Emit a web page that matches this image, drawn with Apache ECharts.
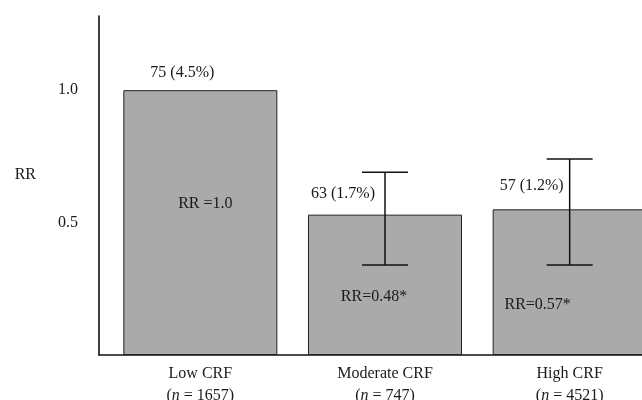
<!DOCTYPE html>
<html>
<head>
<meta charset="utf-8">
<script src="https://cdn.jsdelivr.net/npm/echarts@6/dist/echarts.min.js"></script>
<style>html,body{margin:0;padding:0;background:#fff}#c{width:642px;height:400px}</style>
</head>
<body>
<div id="c"></div>
<script>
// ---- data ----
var categories = ['Low CRF', 'Moderate CRF', 'High CRF'];
var nValues = ['1657', '747', '4521'];
var barValues = [1.0, 0.53, 0.55];
var ciLow = [null, 0.34, 0.34];
var ciHigh = [null, 0.69, 0.74];
var eventLabels = ['75 (4.5%)', '63 (1.7%)', '57 (1.2%)'];
var rrLabels = ['RR =1.0', 'RR=0.48*', 'RR=0.57*'];
var yTicks = [0.5, 1.0];

// ---- layout / style (not data) ----
var FONT = 'Liberation Serif';
var FS = 16;
var countOffsets = [[-18, -17], [-42, -21], [-38, -24]];
var rrOffsets = [[5, -19], [-11, 12], [-32, 23]];
var Y_MAX = 1.28;

var chart = echarts.init(document.getElementById('c'), null, {renderer: 'canvas'});

var option = {
  animation: false,
  backgroundColor: '#ffffff',
  grid: [
    {left: 108, width: 554, top: 16, bottom: 45, outerBoundsMode: 'none', containLabel: false},
    {left: 99, right: 0, top: 16, bottom: 45, outerBoundsMode: 'none', containLabel: false}
  ],
  xAxis: [
    {
      type: 'category', gridIndex: 0, data: categories,
      axisLine: {show: false}, axisTick: {show: false},
      axisLabel: {
        interval: 0, margin: 8, color: '#1a1a1a',
        fontFamily: FONT, fontSize: FS, lineHeight: 22,
        formatter: function (v, idx) {
          return v + '\n({i|n} = ' + nValues[idx] + ')';
        },
        rich: {i: {fontStyle: 'italic', fontFamily: FONT, fontSize: FS, color: '#1a1a1a', lineHeight: 22}}
      }
    },
    {
      type: 'value', gridIndex: 1, min: 0, max: 1,
      axisLine: {show: true, lineStyle: {color: '#111', width: 1.6}},
      axisTick: {show: false}, axisLabel: {show: false}, splitLine: {show: false}
    }
  ],
  yAxis: [
    {
      type: 'value', gridIndex: 0, min: 0, max: Y_MAX, show: false
    },
    {
      type: 'value', gridIndex: 1, min: 0, max: Y_MAX, interval: 0.5,
      axisLine: {show: true, lineStyle: {color: '#111', width: 1.6}},
      axisTick: {show: false}, splitLine: {show: false},
      axisLabel: {
        margin: 21, color: '#1a1a1a', fontFamily: FONT, fontSize: FS,
        showMinLabel: false, showMaxLabel: false,
        formatter: function (v) { return yTicks.indexOf(v) >= 0 ? v.toFixed(1) : ''; }
      },
      name: 'RR\n ', nameLocation: 'middle', nameRotate: 0, nameGap: 63,
      nameTextStyle: {color: '#1a1a1a', fontFamily: FONT, fontSize: FS, lineHeight: 21}
    }
  ],
  series: [
    {
      type: 'bar', xAxisIndex: 0, yAxisIndex: 0, barWidth: 154,
      data: barValues,
      itemStyle: {color: '#aaaaaa', borderColor: '#222', borderWidth: 1}
    },
    {
      type: 'custom', xAxisIndex: 0, yAxisIndex: 0,
      data: categories.map(function (c, i) { return [i, ciLow[i], ciHigh[i]]; }).filter(function (d) { return d[1] != null; }),
      renderItem: function (params, api) {
        var lo = api.coord([api.value(0), api.value(1)]);
        var hi = api.coord([api.value(0), api.value(2)]);
        var hw = 23;
        var st = {stroke: '#111', lineWidth: 1.5};
        return {
          type: 'group',
          children: [
            {type: 'line', shape: {x1: lo[0], y1: lo[1], x2: hi[0], y2: hi[1]}, style: st},
            {type: 'line', shape: {x1: hi[0] - hw, y1: hi[1], x2: hi[0] + hw, y2: hi[1]}, style: st},
            {type: 'line', shape: {x1: lo[0] - hw, y1: lo[1], x2: lo[0] + hw, y2: lo[1]}, style: st}
          ]
        };
      },
      z: 5
    },
    {
      type: 'custom', xAxisIndex: 0, yAxisIndex: 0,
      data: categories.map(function (c, i) { return [i, barValues[i]]; }),
      renderItem: function (params, api) {
        var i = params.dataIndex;
        var top = api.coord([api.value(0), api.value(1)]);
        var base = api.coord([api.value(0), 0]);
        var midY = (top[1] + base[1]) / 2;
        var ts = {fill: '#1a1a1a', fontFamily: FONT, fontSize: FS, align: 'center', verticalAlign: 'middle'};
        return {
          type: 'group',
          children: [
            {type: 'text', x: top[0] + countOffsets[i][0], y: top[1] + countOffsets[i][1],
             style: Object.assign({text: eventLabels[i]}, ts)},
            {type: 'text', x: top[0] + rrOffsets[i][0], y: midY + rrOffsets[i][1],
             style: Object.assign({text: rrLabels[i]}, ts)}
          ]
        };
      },
      z: 6
    }
  ]
};
chart.setOption(option);
</script>
</body>
</html>
